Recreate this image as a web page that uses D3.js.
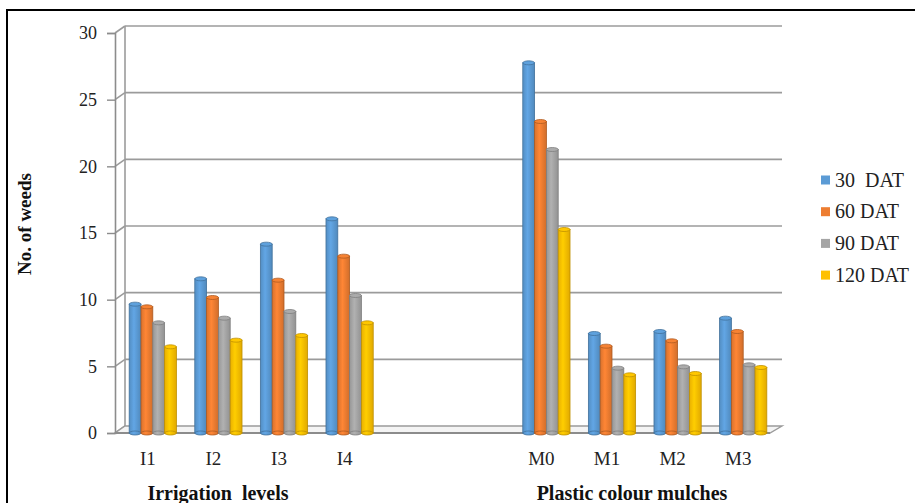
<!DOCTYPE html>
<html><head><meta charset="utf-8">
<script src="https://cdn.jsdelivr.net/npm/d3@7"></script>
<style>body{margin:0;background:#fff}svg{display:block}</style>
</head><body>
<svg id="c" width="915" height="503"></svg>
<script>
const categories = ["I1","I2","I3","I4","","","M0","M1","M2","M3"];
const seriesNames = ["30  DAT","60 DAT","90 DAT","120 DAT"];
const dat30  = [9.7,11.6,14.2,16.1,null,null,27.8,7.5,7.65,8.65];
const dat60  = [9.5,10.2,11.5,13.3,null,null,23.4,6.55,6.95,7.65];
const dat90  = [8.3,8.65,9.15,10.35,null,null,21.3,4.9,5.0,5.15];
const dat120 = [6.5,7.0,7.35,8.3,null,null,15.3,4.4,4.5,4.95];
const yTicks = [0,5,10,15,20,25,30];
const groupTitles = ["Irrigation  levels","Plastic colour mulches"];
const colors = ["#5b9bd5","#ed7d31","#a5a5a5","#ffc000"];
const strokes = ["#41719c","#ae5a21","#7f7f7f","#bf9000"];

const series = [dat30,dat60,dat90,dat120];
const svg = d3.select("#c");
const font = "'Liberation Serif','Times New Roman',serif";

// outer border
svg.append("rect").attr("x",7).attr("y",10).attr("width",930).attr("height",520)
  .attr("fill","none").attr("stroke","#000").attr("stroke-width",2);

const y = d3.scaleLinear().domain([0,30]).range([433,33]);
const dx = 10, dy = -7;
const x = d3.scaleBand().domain(d3.range(categories.length)).range([120,776]).padding(0);
const xs = d3.scaleBand().domain(d3.range(4)).range([0, x.bandwidth()*0.72]);
const gOff = (x.bandwidth() - x.bandwidth()*0.72)/2;
const xLeft = 115, xRightFront = 770;

// back wall gridlines
const grid = svg.append("g");
yTicks.forEach(t=>{
  if (t>0) grid.append("line").attr("x1",xLeft+dx).attr("x2",xRightFront+dx+2)
    .attr("y1",y(t)+dy).attr("y2",y(t)+dy).attr("stroke","#9b9b9b").attr("stroke-width",1.6);
  grid.append("line").attr("x1",xLeft).attr("y1",y(t)).attr("x2",xLeft+dx).attr("y2",y(t)+dy)
    .attr("stroke","#9b9b9b").attr("stroke-width",1.6);
});
grid.append("line").attr("x1",xLeft+dx).attr("x2",xLeft+dx).attr("y1",y(30)+dy).attr("y2",y(0)+dy)
  .attr("stroke","#9b9b9b").attr("stroke-width",1.6);
grid.append("path").attr("d",`M${xLeft},${y(0)}L${xLeft+dx},${y(0)+dy}L${xRightFront+dx+2},${y(0)+dy}L${xRightFront},${y(0)}Z`)
  .attr("fill","#f4f4f4").attr("stroke","#9b9b9b").attr("stroke-width",1.4);

// y axis
const yAxis = d3.axisLeft(y).tickValues(yTicks).tickSize(8).tickPadding(10);
const ya = svg.append("g").attr("transform",`translate(${xLeft},0)`).call(yAxis);
ya.select(".domain").attr("stroke","#8c8c8c").attr("stroke-width",1.6);
ya.selectAll(".tick line").attr("stroke","#8c8c8c").attr("stroke-width",1.4);
ya.selectAll(".tick text").attr("font-family",font).attr("font-size",18).attr("fill","#222");
svg.append("line").attr("x1",xLeft).attr("x2",xRightFront).attr("y1",y(0)).attr("y2",y(0))
  .attr("stroke","#8c8c8c").attr("stroke-width",2);

// gradients
const defs = svg.append("defs");
colors.forEach((c,i)=>{
  const g = defs.append("linearGradient").attr("id","g"+i).attr("x1","0").attr("x2","1").attr("y1","0").attr("y2","0");
  g.append("stop").attr("offset","0%").attr("stop-color",d3.color(c).darker(0.25));
  g.append("stop").attr("offset","40%").attr("stop-color",d3.color(c).brighter(0.2));
  g.append("stop").attr("offset","100%").attr("stop-color",d3.color(c).darker(0.35));
});

// bars
const bars = svg.append("g");
series.forEach((s,si)=>{
  s.forEach((v,ci)=>{
    if (v==null) return;
    const bx = x(ci)+gOff+xs(si);
    const w = xs.bandwidth();
    const top = y(v)+0.5;
    bars.append("rect").attr("x",bx).attr("y",top).attr("width",w).attr("height",y(0)-top)
      .attr("fill",`url(#g${si})`).attr("stroke",strokes[si]).attr("stroke-width",0.8);
    bars.append("ellipse").attr("cx",bx+w/2).attr("cy",y(0)).attr("rx",w/2).attr("ry",2)
      .attr("fill",`url(#g${si})`).attr("stroke",strokes[si]).attr("stroke-width",0.8);
    bars.append("ellipse").attr("cx",bx+w/2).attr("cy",top).attr("rx",w/2).attr("ry",2)
      .attr("fill",d3.color(colors[si]).brighter(0.1)).attr("stroke",strokes[si]).attr("stroke-width",0.8);
  });
});

// category labels
svg.append("g").selectAll("text").data(categories.map((c,i)=>({c,i})).filter(d=>d.c))
  .join("text").attr("x",d=>x(d.i)+x.bandwidth()/2-5).attr("y",465)
  .attr("text-anchor","middle").attr("font-family",font).attr("font-size",19).attr("fill","#222")
  .text(d=>d.c);

// group titles
const titleX = [218, 632];
groupTitles.forEach((t,i)=>{
  svg.append("text").attr("x",titleX[i]).attr("y",500).attr("text-anchor","middle")
    .attr("font-family",font).attr("font-size",20).attr("font-weight","bold").attr("fill","#111")
    .style("white-space","pre").text(t);
});

// y title
svg.append("text").attr("transform","translate(31,224) rotate(-90)").attr("text-anchor","middle")
  .attr("font-family",font).attr("font-size",19).attr("font-weight","bold").attr("fill","#111")
  .text("No. of weeds");

// legend
const lg = svg.append("g").attr("transform","translate(821,180)");
seriesNames.forEach((n,i)=>{
  const r = lg.append("g").attr("transform",`translate(0,${i*31.7})`);
  r.append("rect").attr("x",0).attr("y",-4.5).attr("width",9).attr("height",9).attr("fill",colors[i]);
  r.append("text").attr("x",14).attr("y",6.5).attr("font-family",font).attr("font-size",20).attr("fill","#222")
    .style("white-space","pre").text(n);
});
</script>
</body></html>
